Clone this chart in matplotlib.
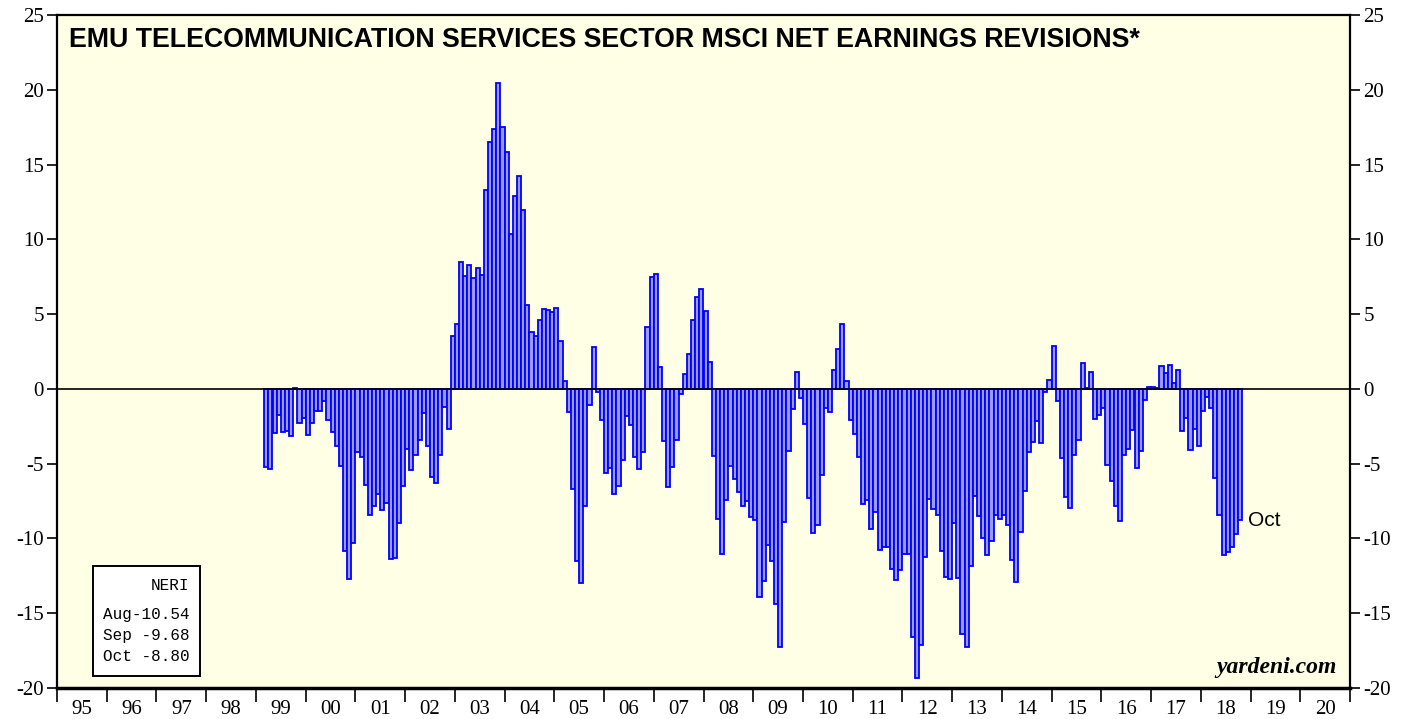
import numpy as np
import matplotlib
matplotlib.use("Agg")
import matplotlib.pyplot as plt
from matplotlib.patches import Rectangle

# — DATA: monthly NERI, Mar 1999 .. Oct 2018 —
start_year, start_month = 1999, 3
neri = [
    # 1999 (Mar-Dec)
    -5.2, -5.35, -2.95, -1.75, -2.9, -2.8, -3.15, 0.07, -2.3, -1.95,
    # 2000
    -3.1, -2.3, -1.5, -1.5, -0.8, -2.1, -2.85, -3.8, -5.15, -10.85, -12.7, -10.3,
    # 2001
    -4.2, -4.55, -6.45, -8.45, -7.85, -7.0, -8.1, -7.6, -11.35, -11.3, -9.0, -6.5,
    # 2002
    -4.0, -5.45, -4.45, -3.45, -1.6, -3.8, -5.9, -6.3, -4.4, -1.2, -2.7, 3.52,
    # 2003
    4.37, 8.49, 7.53, 8.27, 7.42, 8.09, 7.6, 13.32, 16.49, 17.38, 20.45, 17.51,
    # 2004
    15.82, 10.36, 12.88, 14.26, 11.99, 5.64, 3.81, 3.52, 4.63, 5.35, 5.3, 5.15,
    # 2005
    5.41, 3.23, 0.56, -1.52, -6.68, -11.52, -13.0, -7.84, -1.11, 2.81, -0.22, -2.05,
    # 2006
    -5.61, -5.28, -7.06, -6.5, -4.77, -1.83, -2.43, -4.57, -5.39, -4.23, 4.14, 7.49,
    # 2007
    7.69, 1.47, -3.5, -6.55, -5.21, -3.43, -0.31, 0.98, 2.36, 4.59, 6.15, 6.68,
    # 2008
    5.19, 1.8, -4.46, -8.73, -11.03, -7.4, -5.17, -6.02, -6.91, -7.8, -7.51, -8.56,
    # 2009
    -8.8, -13.93, -12.86, -10.47, -11.52, -14.37, -17.27, -8.87, -4.17, -1.34, 1.11, -0.6,
    # 2010
    -2.32, -7.29, -9.63, -9.07, -5.79, -1.31, -1.52, 1.29, 2.67, 4.37, 0.51, -2.05,
    # 2011
    -3.0, -4.57, -7.73, -7.44, -9.36, -8.22, -10.78, -10.56, -10.58, -12.01, -12.75, -12.12,
    # 2012
    -11.03, -11.03, -16.6, -19.36, -17.13, -11.23, -7.35, -8.0, -8.44, -10.85, -12.57, -12.68,
    # 2013
    -9.0, -12.63, -16.42, -17.27, -11.81, -7.17, -8.51, -10.0, -11.14, -10.18, -8.44, -8.67,
    # 2014
    -8.4, -9.07, -11.45, -12.9, -9.56, -6.84, -4.21, -3.56, -2.12, -3.61, -0.22, 0.58,
    # 2015
    2.9, -0.78, -4.61, -7.22, -7.95, -4.39, -3.39, 1.74, 0.05, 1.16, -1.98, -1.72,
    # 2016
    -1.31, -5.06, -6.13, -7.84, -8.85, -4.43, -4.01, -2.76, -5.3, -4.12, -0.71, 0.12,
    # 2017
    0.12, 0.03, 1.52, 1.07, 1.6, 0.4, 1.23, -2.79, -1.94, -4.1, -2.67, -3.83,
    # 2018
    -1.45, -0.56, -1.27, -5.95, -8.4, -11.14, -10.9, -10.54, -9.68, -8.80,
]
years = list(range(1995, 2021))
year_labels = [f"{y % 100:02d}" for y in years]
legend_lines = ["NERI", "Aug-10.54", "Sep -9.68", "Oct -8.80"]
title = "EMU TELECOMMUNICATION SERVICES SECTOR MSCI NET EARNINGS REVISIONS*"

# — FIGURE —
fig = plt.figure(figsize=(14.17, 7.19), dpi=100)
ax = fig.add_axes([57 / 1417, 1 - 688 / 719, (1350 - 57) / 1417, (688 - 15) / 719])
ax.set_facecolor("#FFFFE6")

x = start_year + (start_month - 1 + np.arange(len(neri))) / 12.0
ax.bar(x, neri, width=1 / 12, align="edge", color="#9B9BFF",
       edgecolor="#0000FF", linewidth=1.3, zorder=2)
ax.axhline(0, color="black", lw=1.2, zorder=3)

ax.set_xlim(1995, 2021)
ax.set_ylim(-20, 25)

serif = "Liberation Serif"
ax.set_yticks(range(-20, 26, 5))
ax.set_yticklabels([str(v) for v in range(-20, 26, 5)], family=serif, fontsize=15)
ax.tick_params(axis="y", which="major", direction="out", length=7.5, width=1.2,
               left=True, right=True, labelleft=True, labelright=True, pad=2)

ax.set_xticks(years + [2021])
ax.set_xticklabels([])
ax.set_xticks([y + 0.5 for y in years], minor=True)
ax.set_xticklabels(year_labels, minor=True, family=serif, fontsize=15)
ax.tick_params(axis="x", which="major", direction="out", length=10, width=1.2)
ax.tick_params(axis="x", which="minor", length=0, pad=9)

for side in ["left", "right", "top"]:
    ax.spines[side].set_linewidth(1.6)
ax.spines["bottom"].set_linewidth(2.5)

ax.text(0.009, 0.982, title, transform=ax.transAxes, ha="left", va="top",
        family="Liberation Sans", fontweight="bold", fontsize=19.3)

ax.text(0.99, 0.015, "yardeni.com", transform=ax.transAxes, ha="right", va="bottom",
        family=serif, fontweight="bold", style="italic", fontsize=17)

ax.annotate("Oct", xy=(x[-1] + 1 / 12, neri[-1]), xytext=(4, 0),
            textcoords="offset points", ha="left", va="center",
            family="Liberation Sans", fontsize=15)

# NERI box
ax.add_patch(Rectangle((0.0278, 0.0178), 0.0828, 0.1635, transform=ax.transAxes,
                       facecolor="white", edgecolor="black", lw=1.4, zorder=5))
for s, yy in zip(legend_lines, [0.153, 0.1085, 0.0773, 0.0461]):
    ax.text(0.1025, yy, s, transform=ax.transAxes, ha="right", va="center",
            family="Liberation Mono", fontsize=11.5, zorder=6)

fig.savefig("out.png", dpi=100, facecolor="white")
